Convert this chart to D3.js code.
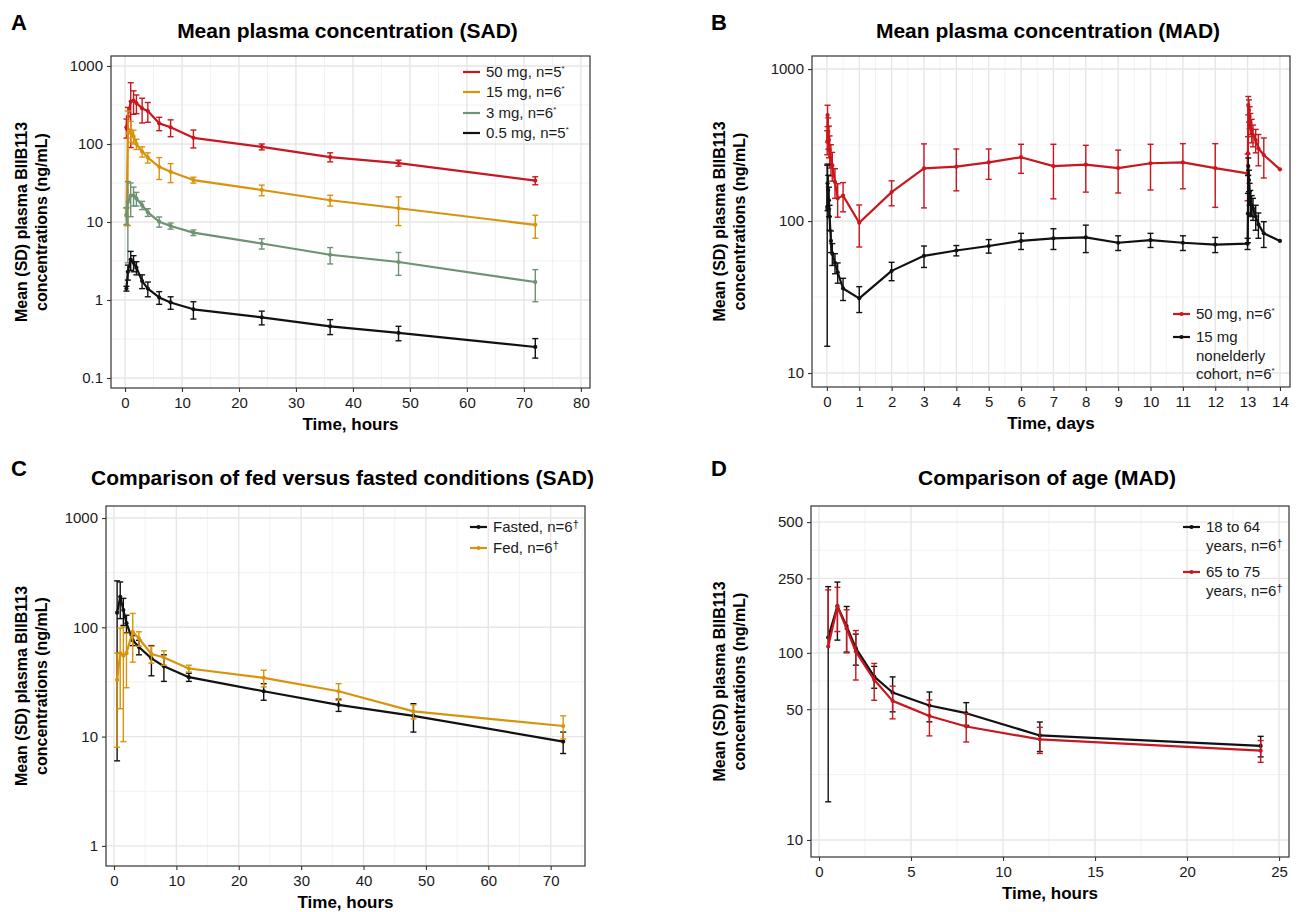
<!DOCTYPE html>
<html>
<head>
<meta charset="utf-8">
<script src="https://cdn.jsdelivr.net/npm/d3@7"></script>
<style>
  body { margin: 0; background: #fff; }
  text { font-family: "Liberation Sans", Arial, sans-serif; }
</style>
</head>
<body>
<svg id="chart" width="1298" height="912"></svg>
<script>
// ---- panel A: SAD, hours ----
const sadTimes = [0.25, 0.5, 1, 1.5, 2, 3, 4, 6, 8, 12, 24, 36, 48, 72];
const sad50 = [164, 224, 350, 360, 335, 286, 265, 184, 164, 120, 92, 68, 57, 34];
const sad50Sd = [45, 70, 260, 120, 90, 100, 75, 36, 40, 31, 8, 9, 5, 4];
const sad15 = [12, 137, 150, 125, 100, 80, 67, 51, 44, 34.5, 25.7, 19, 15, 9.2];
const sad15Sd = [3, 128, 45, 25, 15, 12, 10, 16, 12, 3, 4, 3, 6, 3];
const sad3 = [12.3, 18, 21.7, 22, 20, 16.4, 13.3, 10.1, 8.9, 7.3, 5.3, 3.8, 3.07, 1.7];
const sad3Sd = [3, 15, 10, 6, 4, 2, 1.5, 1.5, 0.8, 0.6, 0.8, 0.9, 1.0, 0.75];
const sad05 = [1.4, 2.3, 3.3, 3.0, 2.6, 1.75, 1.4, 1.08, 0.93, 0.76, 0.6, 0.46, 0.38, 0.25];
const sad05Sd = [0.1, 0.5, 0.9, 0.7, 0.5, 0.35, 0.3, 0.2, 0.17, 0.19, 0.12, 0.1, 0.08, 0.07];

// ---- panel B: MAD, days ----
const madTimes = [0.0104, 0.0208, 0.0417, 0.0625, 0.0833, 0.125, 0.1667, 0.25, 0.3333, 0.5, 1, 2, 3, 4, 5, 6, 7, 8, 9, 10, 11, 12,
  13, 13.0104, 13.0208, 13.0417, 13.0625, 13.0833, 13.125, 13.1667, 13.25, 13.3333, 13.5, 14];
const mad50 = [333, 498, 387, 341, 293, 258, 233, 181, 141, 147, 97.5, 155, 222, 228, 243, 263, 230, 235, 223, 240, 243, 223,
  206, 279, 580, 537, 485, 440, 397, 368, 341, 301, 272, 219];
const mad50Sd = [60, 80, 90, 80, 70, 60, 50, 40, 35, 32, 30, 29, 100, 70, 55, 57, 90, 80, 70, 80, 80, 100,
  70, 80, 80, 90, 80, 70, 70, 60, 60, 70, 80, 0];
const mad15 = [124, 177, 160, 137, 107, 74, 61, 53, 46, 36, 31, 47, 59, 64, 68.5, 74, 77, 78, 72, 75, 72, 70,
  71, 112, 230, 186, 152, 134, 127, 121, 107, 95, 83, 74];
const mad15Sd = [109, 60, 40, 30, 20, 12, 10, 8, 7, 6, 6, 6.5, 9.5, 5, 7, 9, 12, 16, 8, 8, 8, 8,
  6, 40, 30, 30, 25, 25, 20, 20, 20, 18, 16, 0];

// ---- panel C: fed vs fasted, hours ----
const fedTimes = [0.5, 1, 1.5, 2, 3, 4, 6, 8, 12, 24, 36, 48, 72];
const fasted = [136, 190, 144, 109, 76, 66, 52, 44, 35, 26, 19.5, 15.5, 9];
const fastedSd = [130, 70, 40, 20, 8, 10, 16, 12, 3, 4.5, 2.5, 4.5, 2];
const fed = [33, 58, 55, 58, 91, 79, 57, 53, 42, 34.5, 26, 17, 12.5];
const fedSd = [25, 40, 46, 30, 43, 12, 10, 8, 3, 6, 4.5, 2.5, 3];

// ---- panel D: age, hours ----
const ageTimes = [0.5, 1, 1.5, 2, 3, 4, 6, 8, 12, 24];
const young = [121, 178, 139, 106, 74.7, 61.4, 52.3, 47.6, 36.2, 31.8];
const youngSd = [105, 61, 38, 20, 10, 13, 9.5, 6.6, 6.5, 4];
const elderly = [108, 177, 135, 101.6, 71.8, 55.4, 46, 40.4, 34.5, 30];
const elderlySd = [109, 47, 35, 30, 16, 11, 10, 7, 5.5, 4];

// ticks
const ticksA_x = [0, 10, 20, 30, 40, 50, 60, 70, 80];
const ticksA_y = [0.1, 1, 10, 100, 1000];
const ticksB_x = d3.range(0, 15);
const ticksB_y = [10, 100, 1000];
const ticksC_x = [0, 10, 20, 30, 40, 50, 60, 70];
const ticksC_y = [1, 10, 100, 1000];
const ticksD_x = [0, 5, 10, 15, 20, 25];
const ticksD_y = [10, 50, 100, 250, 500];

const RED = '#c8171e', ORANGE = '#d8930c', GREEN = '#6e9273', BLACK = '#111';

const svg = d3.select('#chart');

function drawPanel(p) {
  const x = d3.scaleLinear().domain(p.xDomain).range([p.left, p.right]);
  const y = d3.scaleLog().domain(p.yDomain).range([p.bottom, p.top]);
  const g = svg.append('g');

  const clipId = 'clip' + p.letter;
  svg.append('clipPath').attr('id', clipId)
    .append('rect').attr('x', p.left).attr('y', p.top)
    .attr('width', p.right - p.left).attr('height', p.bottom - p.top);

  // minor grid: halfway between x breaks, geometric middle between y breaks
  const xStep = p.xTicks[1] - p.xTicks[0];
  const xMinor = [];
  for (let v = p.xTicks[0] - xStep / 2; v <= p.xDomain[1]; v += xStep) {
    if (v >= p.xDomain[0]) xMinor.push(v);
  }
  const yMinor = [];
  for (let i = 0; i < p.yTicks.length - 1; i++) yMinor.push(Math.sqrt(p.yTicks[i] * p.yTicks[i + 1]));

  const grid = g.append('g').attr('clip-path', `url(#${clipId})`);
  grid.selectAll('.vminor').data(xMinor).enter().append('line')
    .attr('x1', d => x(d)).attr('x2', d => x(d)).attr('y1', p.top).attr('y2', p.bottom)
    .attr('stroke', '#efefef').attr('stroke-width', 0.8);
  grid.selectAll('.hminor').data(yMinor).enter().append('line')
    .attr('y1', d => y(d)).attr('y2', d => y(d)).attr('x1', p.left).attr('x2', p.right)
    .attr('stroke', '#efefef').attr('stroke-width', 0.8);
  grid.selectAll('.vmajor').data(p.xTicks).enter().append('line')
    .attr('x1', d => x(d)).attr('x2', d => x(d)).attr('y1', p.top).attr('y2', p.bottom)
    .attr('stroke', '#e6e6e6').attr('stroke-width', 1.4);
  grid.selectAll('.hmajor').data(p.yTicks).enter().append('line')
    .attr('y1', d => y(d)).attr('y2', d => y(d)).attr('x1', p.left).attr('x2', p.right)
    .attr('stroke', '#e6e6e6').attr('stroke-width', 1.4);

  // series: error bars, line, points
  const plot = g.append('g').attr('clip-path', `url(#${clipId})`);
  p.series.forEach(s => {
    const pts = s.times.map((t, i) => ({ t: t, v: s.values[i], sd: s.sd[i] }));
    const withBar = pts.filter(d => d.sd > 0);
    const sg = plot.append('g');
    sg.selectAll('.bar').data(withBar).enter().append('line')
      .attr('x1', d => x(d.t)).attr('x2', d => x(d.t))
      .attr('y1', d => y(d.v + d.sd))
      .attr('y2', d => d.v - d.sd > 0 ? y(d.v - d.sd) : y(d.v))
      .attr('stroke', s.color).attr('stroke-width', 1.4);
    sg.selectAll('.capHi').data(withBar).enter().append('line')
      .attr('x1', d => x(d.t) - 3).attr('x2', d => x(d.t) + 3)
      .attr('y1', d => y(d.v + d.sd)).attr('y2', d => y(d.v + d.sd))
      .attr('stroke', s.color).attr('stroke-width', 1.4);
    sg.selectAll('.capLo').data(withBar.filter(d => d.v - d.sd > 0)).enter().append('line')
      .attr('x1', d => x(d.t) - 3).attr('x2', d => x(d.t) + 3)
      .attr('y1', d => y(d.v - d.sd)).attr('y2', d => y(d.v - d.sd))
      .attr('stroke', s.color).attr('stroke-width', 1.4);
    sg.append('path').datum(pts)
      .attr('d', d3.line().x(d => x(d.t)).y(d => y(d.v)))
      .attr('fill', 'none').attr('stroke', s.color).attr('stroke-width', 2.2)
      .attr('stroke-linejoin', 'round');
    sg.selectAll('.pt').data(pts).enter().append('circle')
      .attr('cx', d => x(d.t)).attr('cy', d => y(d.v)).attr('r', 2.1)
      .attr('fill', s.color);
  });

  // axes
  const xAxis = d3.axisBottom(x).tickValues(p.xTicks).tickSize(4).tickPadding(5).tickSizeOuter(0);
  const yAxis = d3.axisLeft(y).tickValues(p.yTicks).tickSize(4).tickPadding(4).tickSizeOuter(0)
    .tickFormat(d => String(d));
  const gx = g.append('g').attr('transform', `translate(0,${p.bottom})`).call(xAxis);
  const gy = g.append('g').attr('transform', `translate(${p.left},0)`).call(yAxis);
  [gx, gy].forEach(a => {
    a.select('.domain').remove();
    a.selectAll('.tick line').attr('stroke', '#333').attr('stroke-width', 1.1);
    a.selectAll('.tick text').attr('font-size', 15).attr('fill', '#1a1a1a')
      .attr('font-family', '"Liberation Sans", Arial, sans-serif');
  });

  // border
  g.append('rect').attr('x', p.left).attr('y', p.top)
    .attr('width', p.right - p.left).attr('height', p.bottom - p.top)
    .attr('fill', 'none').attr('stroke', '#333').attr('stroke-width', 1.2);

  // titles
  g.append('text').attr('x', p.letterX).attr('y', p.letterY)
    .attr('font-size', 22).attr('font-weight', 'bold').text(p.letter);
  g.append('text').attr('x', (p.left + p.right) / 2 - 3).attr('y', p.titleY)
    .attr('text-anchor', 'middle').attr('font-size', 21).attr('font-weight', 'bold').text(p.title);
  g.append('text').attr('x', (p.left + p.right) / 2).attr('y', p.bottom + 42)
    .attr('text-anchor', 'middle').attr('font-size', 17).attr('font-weight', 'bold').text(p.xTitle);
  const cy = (p.top + p.bottom) / 2;
  g.append('text').attr('transform', `translate(${p.yTitleX},${cy}) rotate(-90)`)
    .attr('text-anchor', 'middle').attr('font-size', 16).attr('font-weight', 'bold')
    .text('Mean (SD) plasma BIIB113');
  g.append('text').attr('transform', `translate(${p.yTitleX + 20},${cy}) rotate(-90)`)
    .attr('text-anchor', 'middle').attr('font-size', 16).attr('font-weight', 'bold')
    .text('concentrations (ng/mL)');

  // legend
  const lg = g.append('g');
  p.legend.forEach(item => {
    lg.append('line').attr('x1', p.legendX).attr('x2', p.legendX + 17)
      .attr('y1', item.y).attr('y2', item.y)
      .attr('stroke', item.color).attr('stroke-width', 2.2);
    if (p.legendDot) {
      lg.append('circle').attr('cx', p.legendX + 8.5).attr('cy', item.y).attr('r', 2.1).attr('fill', item.color);
    }
    item.lines.forEach((ln, j) => {
      const t = lg.append('text').attr('x', p.legendX + 23).attr('y', item.y + 5 + j * 18.5)
        .attr('font-size', 15).attr('fill', '#1a1a1a');
      t.append('tspan').text(ln.text);
      if (ln.sup) t.append('tspan').attr('font-size', ln.sup === '*' ? 8 : 11)
        .attr('dy', ln.sup === '*' ? -6 : -4).text(ln.sup);
    });
  });
}

drawPanel({
  letter: 'A', letterX: 11, letterY: 30,
  title: 'Mean plasma concentration (SAD)', titleY: 38,
  xTitle: 'Time, hours', yTitleX: 27,
  left: 111, right: 590, top: 56, bottom: 388,
  xDomain: [-2.46, 81.6], yDomain: [Math.pow(10, -1.128), Math.pow(10, 3.128)],
  xTicks: ticksA_x, yTicks: ticksA_y,
  series: [
    { times: sadTimes, values: sad50, sd: sad50Sd, color: RED },
    { times: sadTimes, values: sad15, sd: sad15Sd, color: ORANGE },
    { times: sadTimes, values: sad3, sd: sad3Sd, color: GREEN },
    { times: sadTimes, values: sad05, sd: sad05Sd, color: BLACK }
  ],
  legendX: 463, legendDot: false,
  legend: [
    { y: 72, color: RED, lines: [{ text: '50 mg, n=5', sup: '*' }] },
    { y: 92, color: ORANGE, lines: [{ text: '15 mg, n=6', sup: '*' }] },
    { y: 113, color: GREEN, lines: [{ text: '3 mg, n=6', sup: '*' }] },
    { y: 133, color: BLACK, lines: [{ text: '0.5 mg, n=5', sup: '*' }] }
  ]
});

drawPanel({
  letter: 'B', letterX: 711, letterY: 30,
  title: 'Mean plasma concentration (MAD)', titleY: 38,
  xTitle: 'Time, days', yTitleX: 725,
  left: 812, right: 1290, top: 56, bottom: 387,
  xDomain: [-0.46, 14.31], yDomain: [Math.pow(10, 0.908), Math.pow(10, 3.086)],
  xTicks: ticksB_x, yTicks: ticksB_y,
  series: [
    { times: madTimes, values: mad50, sd: mad50Sd, color: RED },
    { times: madTimes, values: mad15, sd: mad15Sd, color: BLACK }
  ],
  legendX: 1173, legendDot: true,
  legend: [
    { y: 314, color: RED, lines: [{ text: '50 mg, n=6', sup: '*' }] },
    { y: 337, color: BLACK, lines: [{ text: '15 mg' }, { text: 'nonelderly' }, { text: 'cohort, n=6', sup: '*' }] }
  ]
});

drawPanel({
  letter: 'C', letterX: 11, letterY: 476,
  title: 'Comparison of fed versus fasted conditions (SAD)', titleY: 485,
  xTitle: 'Time, hours', yTitleX: 27,
  left: 106, right: 585, top: 506, bottom: 866,
  xDomain: [-1.28, 75.5], yDomain: [Math.pow(10, -0.184), Math.pow(10, 3.11)],
  xTicks: ticksC_x, yTicks: ticksC_y,
  series: [
    { times: fedTimes, values: fasted, sd: fastedSd, color: BLACK },
    { times: fedTimes, values: fed, sd: fedSd, color: ORANGE }
  ],
  legendX: 470, legendDot: true,
  legend: [
    { y: 527, color: BLACK, lines: [{ text: 'Fasted, n=6', sup: '†' }] },
    { y: 548, color: ORANGE, lines: [{ text: 'Fed, n=6', sup: '†' }] }
  ]
});

drawPanel({
  letter: 'D', letterX: 711, letterY: 476,
  title: 'Comparison of age (MAD)', titleY: 485,
  xTitle: 'Time, hours', yTitleX: 725,
  left: 811, right: 1289, top: 506, bottom: 857,
  xDomain: [-0.435, 25.54], yDomain: [Math.pow(10, 0.909), Math.pow(10, 2.785)],
  xTicks: ticksD_x, yTicks: ticksD_y,
  series: [
    { times: ageTimes, values: young, sd: youngSd, color: BLACK },
    { times: ageTimes, values: elderly, sd: elderlySd, color: RED }
  ],
  legendX: 1183, legendDot: true,
  legend: [
    { y: 527, color: BLACK, lines: [{ text: '18 to 64' }, { text: 'years, n=6', sup: '†' }] },
    { y: 572, color: RED, lines: [{ text: '65 to 75' }, { text: 'years, n=6', sup: '†' }] }
  ]
});
</script>
</body>
</html>
